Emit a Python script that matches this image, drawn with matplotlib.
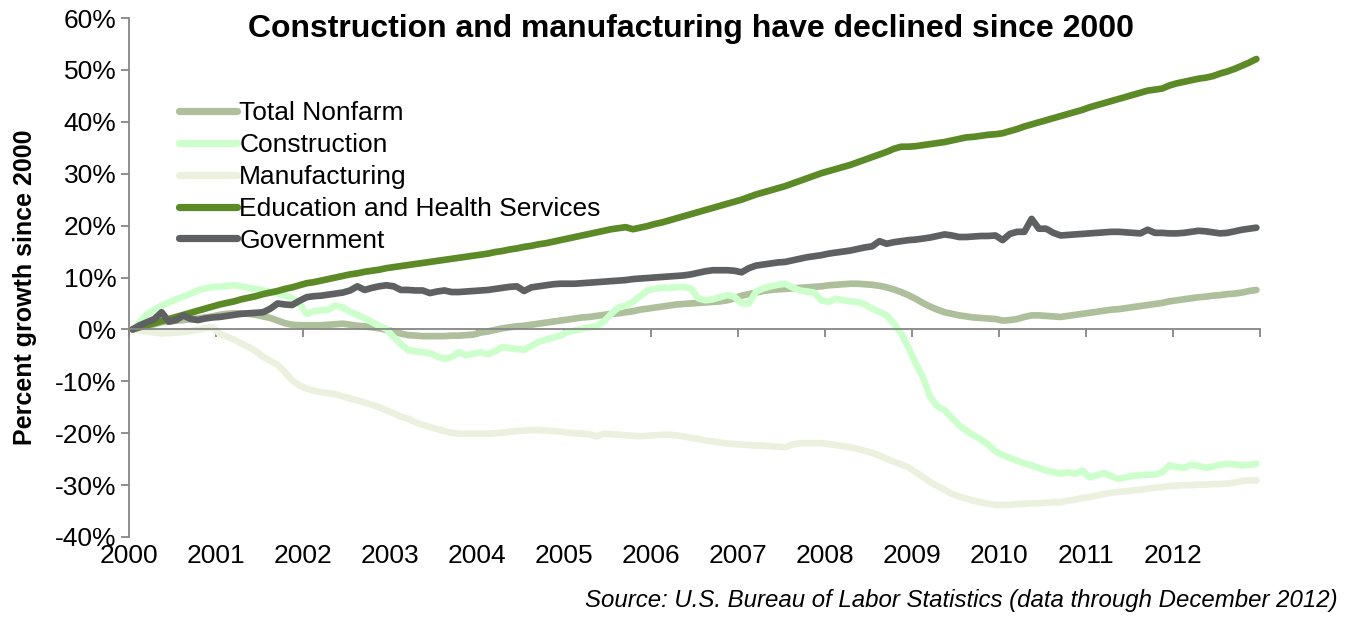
import numpy as np
import matplotlib
matplotlib.use("Agg")
import matplotlib.pyplot as plt
from matplotlib.ticker import FuncFormatter

plt.rcParams['font.family'] = ['Liberation Sans', 'DejaVu Sans']

# monthly % growth since Jan 2000, Jan 2000 .. Dec 2012 (one row per year)
total_nonfarm = [
    0.0, 0.3, 0.7, 1.0, 1.4, 1.5, 1.7, 1.8, 2.0, 2.1, 2.3, 2.5,
    2.8, 3.0, 3.1, 3.1, 3.0, 2.8, 2.5, 2.2, 1.7, 1.2, 0.9, 0.8,
    0.8, 0.8, 0.8, 0.9, 1.0, 1.1, 0.9, 0.7, 0.6, 0.4, 0.2, -0.1,
    -0.4, -0.8, -1.1, -1.2, -1.3, -1.3, -1.3, -1.3, -1.2, -1.2, -1.1, -1.0,
    -0.6, -0.4, -0.1, 0.2, 0.4, 0.6, 0.7, 0.9, 1.1, 1.3, 1.5, 1.7,
    1.9, 2.1, 2.3, 2.4, 2.6, 2.8, 3.0, 3.1, 3.3, 3.5, 3.8, 4.0,
    4.2, 4.4, 4.6, 4.8, 4.9, 5.0, 5.1, 5.2, 5.3, 5.4, 5.6, 6.0,
    6.5, 6.8, 7.1, 7.4, 7.6, 7.7, 7.8, 7.9, 8.0, 8.1, 8.2, 8.3,
    8.5, 8.6, 8.7, 8.8, 8.8, 8.7, 8.6, 8.4, 8.1, 7.7, 7.2, 6.6,
    5.9, 5.1, 4.4, 3.8, 3.3, 3.0, 2.7, 2.5, 2.3, 2.2, 2.1, 2.0,
    1.7, 1.8, 2.0, 2.4, 2.7, 2.7, 2.6, 2.5, 2.4, 2.6, 2.8, 3.0,
    3.2, 3.4, 3.6, 3.8, 3.9, 4.1, 4.3, 4.5, 4.7, 4.9, 5.1, 5.4,
    5.6, 5.8, 6.0, 6.2, 6.3, 6.5, 6.6, 6.8, 6.9, 7.1, 7.4, 7.6,
]
construction = [
    0.0, 1.5, 3.0, 3.8, 4.6, 5.2, 5.8, 6.3, 6.9, 7.5, 7.9, 8.2,
    8.2, 8.4, 8.5, 8.3, 8.0, 7.8, 7.5, 7.2, 6.9, 6.6, 6.0, 5.0,
    3.0, 3.5, 3.7, 3.8, 4.6, 4.2, 3.4, 2.8, 2.2, 1.4, 0.7, 0.1,
    -1.5, -2.8, -4.0, -4.2, -4.4, -4.6, -5.2, -5.7, -5.3, -4.4, -5.0, -4.7,
    -4.4, -4.8, -4.2, -3.4, -3.6, -3.8, -3.9, -3.2, -2.4, -2.0, -1.6, -1.2,
    -0.5, -0.2, 0.1, 0.4, 0.6, 1.5, 3.0, 4.2, 4.6, 5.3, 6.4, 7.5,
    7.8, 8.0, 8.0, 8.1, 8.2, 7.9, 6.0, 5.6, 5.8, 6.2, 6.6, 6.3,
    5.0, 5.0, 7.3, 7.9, 8.3, 8.6, 8.8, 8.1, 7.5, 7.3, 7.1, 5.6,
    5.3, 5.9, 5.6, 5.4, 5.3, 4.8, 4.0, 3.4, 2.7, 1.1, -0.8, -3.5,
    -6.5, -9.2, -13.0, -14.8, -15.6, -17.0, -18.5, -19.5, -20.4, -21.2, -22.2, -23.5,
    -24.2, -24.8, -25.3, -25.8, -26.2, -26.7, -27.2, -27.5, -27.8, -27.5, -27.8, -27.2,
    -28.5, -28.1, -27.7, -28.3, -28.8, -28.5, -28.2, -28.1, -28.0, -28.0, -27.5, -26.2,
    -26.5, -26.7, -26.1, -26.3, -26.7, -26.4, -26.1, -25.9, -26.0, -26.2, -26.1, -25.9,
]
manufacturing = [
    0.0, -0.2, -0.4, -0.6, -0.8, -0.7, -0.6, -0.5, -0.3, -0.1, 0.2, 0.4,
    -0.8, -1.4, -2.0, -2.7, -3.4, -4.2, -5.3, -6.1, -6.8, -8.2, -9.8, -10.8,
    -11.4, -11.8, -12.1, -12.3, -12.5, -12.9, -13.3, -13.7, -14.1, -14.5, -15.0, -15.6,
    -16.2, -16.8, -17.2, -17.9, -18.4, -18.8, -19.2, -19.6, -19.9, -20.1, -20.1, -20.1,
    -20.1, -20.1, -20.0, -19.9, -19.7, -19.6, -19.5, -19.4, -19.4, -19.5, -19.6, -19.7,
    -19.9, -20.0, -20.1, -20.2, -20.6, -20.1, -20.2, -20.3, -20.4, -20.5, -20.6, -20.5,
    -20.4, -20.3, -20.3, -20.4, -20.6, -20.9, -21.1, -21.4, -21.6, -21.8, -22.0, -22.1,
    -22.2, -22.3, -22.4, -22.4, -22.5, -22.6, -22.7, -22.2, -21.9, -21.9, -21.9, -21.9,
    -22.1, -22.3, -22.5, -22.7, -23.0, -23.4, -23.8, -24.3, -24.9, -25.5, -26.0, -26.6,
    -27.5, -28.4, -29.4, -30.2, -30.9, -31.7, -32.2, -32.6, -33.0, -33.3, -33.6, -33.8,
    -33.8, -33.8, -33.7, -33.6, -33.5, -33.5, -33.4, -33.3, -33.3, -33.0, -32.8, -32.5,
    -32.3, -32.0, -31.7, -31.5, -31.3, -31.2, -31.0, -30.9, -30.7, -30.5, -30.4, -30.2,
    -30.1, -30.0, -30.0, -29.9, -29.9, -29.8, -29.8, -29.7, -29.5, -29.2, -29.1, -29.1,
]
education_health = [
    0.0, 0.4, 0.8, 1.2, 1.6, 2.0, 2.4, 2.8, 3.2, 3.6, 4.0, 4.4,
    4.8, 5.1, 5.4, 5.8, 6.1, 6.4, 6.8, 7.1, 7.4, 7.8, 8.1, 8.5,
    8.9, 9.1, 9.4, 9.7, 10.0, 10.3, 10.6, 10.8, 11.1, 11.3, 11.5, 11.8,
    12.0, 12.2, 12.4, 12.6, 12.8, 13.0, 13.2, 13.4, 13.6, 13.8, 14.0, 14.2,
    14.4, 14.6, 14.9, 15.1, 15.4, 15.6, 15.9, 16.1, 16.4, 16.6, 16.9, 17.2,
    17.5, 17.8, 18.1, 18.4, 18.7, 19.0, 19.3, 19.5, 19.7, 19.3, 19.6, 19.9,
    20.3, 20.6, 21.0, 21.4, 21.8, 22.2, 22.6, 23.0, 23.4, 23.8, 24.2, 24.6,
    25.0, 25.5, 26.0, 26.4, 26.8, 27.2, 27.6, 28.1, 28.6, 29.1, 29.6, 30.1,
    30.5, 30.9, 31.3, 31.7, 32.2, 32.7, 33.2, 33.7, 34.2, 34.8, 35.2, 35.2,
    35.3, 35.5, 35.7, 35.9, 36.1, 36.4, 36.7, 37.0, 37.1, 37.3, 37.5, 37.6,
    37.8, 38.2, 38.6, 39.1, 39.5, 39.9, 40.3, 40.7, 41.1, 41.5, 41.9, 42.3,
    42.8, 43.2, 43.6, 44.0, 44.4, 44.8, 45.2, 45.6, 46.0, 46.2, 46.4, 47.0,
    47.4, 47.7, 48.0, 48.3, 48.5, 48.8, 49.3, 49.7, 50.2, 50.8, 51.4, 52.1,
]
government = [
    0.0, 0.8, 1.4, 2.0, 3.3, 1.5, 1.8, 2.7, 2.0, 1.8, 2.1, 2.3,
    2.4, 2.6, 2.8, 3.0, 3.1, 3.2, 3.3, 4.0, 5.0, 4.8, 4.7, 5.5,
    6.2, 6.4, 6.5, 6.7, 6.9, 7.1, 7.5, 8.3, 7.6, 8.0, 8.3, 8.5,
    8.3, 7.6, 7.6, 7.5, 7.5, 7.0, 7.3, 7.5, 7.2, 7.2, 7.3, 7.4,
    7.5, 7.6, 7.8, 8.0, 8.2, 8.3, 7.4, 8.1, 8.3, 8.5, 8.7, 8.8,
    8.8, 8.8, 8.9, 9.0, 9.1, 9.2, 9.3, 9.4, 9.5, 9.7, 9.8, 9.9,
    10.0, 10.1, 10.2, 10.3, 10.4, 10.6, 10.9, 11.2, 11.4, 11.4, 11.4, 11.3,
    11.0, 11.8, 12.3, 12.5, 12.7, 12.9, 13.0, 13.3, 13.6, 13.9, 14.1, 14.3,
    14.6, 14.8, 15.0, 15.2, 15.5, 15.8, 16.0, 17.0, 16.5, 16.8, 17.0, 17.2,
    17.3, 17.5, 17.7, 18.0, 18.3, 18.1, 17.8, 17.8, 17.9, 18.0, 18.0, 18.1,
    17.2, 18.4, 18.8, 18.8, 21.3, 19.4, 19.4, 18.6, 18.1, 18.2, 18.3, 18.4,
    18.5, 18.6, 18.7, 18.8, 18.8, 18.7, 18.6, 18.5, 19.2, 18.6, 18.6, 18.5,
    18.5, 18.6, 18.8, 19.0, 18.9, 18.7, 18.5, 18.6, 18.9, 19.2, 19.4, 19.6,
]

series_names = ["Total Nonfarm", "Construction", "Manufacturing",
                "Education and Health Services", "Government"]
series_colors = ["#AEBF9B", "#CCFFCC", "#EBF1DE", "#5B8A26", "#5F6062"]
years = list(range(2000, 2014))

# mid-month positions on a year axis
months = 2000 + (np.arange(len(total_nonfarm)) + 0.5) / 12.0

fig = plt.figure(figsize=(13.56, 6.2), dpi=100)
ax = fig.add_axes([129 / 1356, 1 - 537 / 620, (1260 - 129) / 1356, (537 - 18) / 620])

all_series = [total_nonfarm, construction, manufacturing, education_health, government]
for name, vals, col in zip(series_names, all_series, series_colors):
    ax.plot(months, vals, color=col, lw=4.8, label=name,
            solid_capstyle='round', solid_joinstyle='round')

ax.set_xlim(2000, 2013)
ax.set_ylim(-40, 60)
ax.set_yticks(range(-40, 61, 10))
ax.yaxis.set_major_formatter(FuncFormatter(lambda v, p: "%d%%" % v))
ax.set_xticks(years)
ax.set_xticklabels([str(y) for y in years[:-1]] + [""])

axis_gray = "#868686"
for side in ["right", "bottom"]:
    ax.spines[side].set_visible(False)
ax.spines["left"].set_color(axis_gray)
ax.spines["top"].set_color(axis_gray)
ax.spines["top"].set_position(("data", 0))
ax.spines["left"].set_linewidth(1.3)
ax.spines["top"].set_linewidth(1.3)

ax.tick_params(axis="y", direction="out", length=6, width=1.3, color=axis_gray,
               labelsize=19, pad=3)
ax.tick_params(axis="x", top=True, bottom=False, labeltop=False, labelbottom=True,
               direction="in", length=6, width=1.3, color=axis_gray,
               labelsize=19, pad=5)

ax.set_ylabel("Percent growth since 2000", fontsize=18, fontweight="bold")
ax.yaxis.set_label_coords(-0.081, 0.482)

leg = ax.legend(loc="upper left", bbox_to_anchor=(179 / 1356, 1 - 101 / 620),
                bbox_transform=fig.transFigure, frameon=False, fontsize=19,
                handlelength=2.2, handletextpad=0.08, labelspacing=0.3,
                borderpad=0, borderaxespad=0)
for line in leg.get_lines():
    line.set_linewidth(5.2)

fig.text(691 / 1356, 1 - 29 / 620, "Construction and manufacturing have declined since 2000",
         ha="center", va="center", fontsize=23, fontweight="bold")
fig.text(1338 / 1356, 1 - 600 / 620,
         "Source: U.S. Bureau of Labor Statistics (data through December 2012)",
         ha="right", va="center", fontsize=17.3, style="italic",
         family=["Liberation Sans Narrow", "Liberation Sans", "DejaVu Sans"])

fig.savefig("out.png", dpi=100)
